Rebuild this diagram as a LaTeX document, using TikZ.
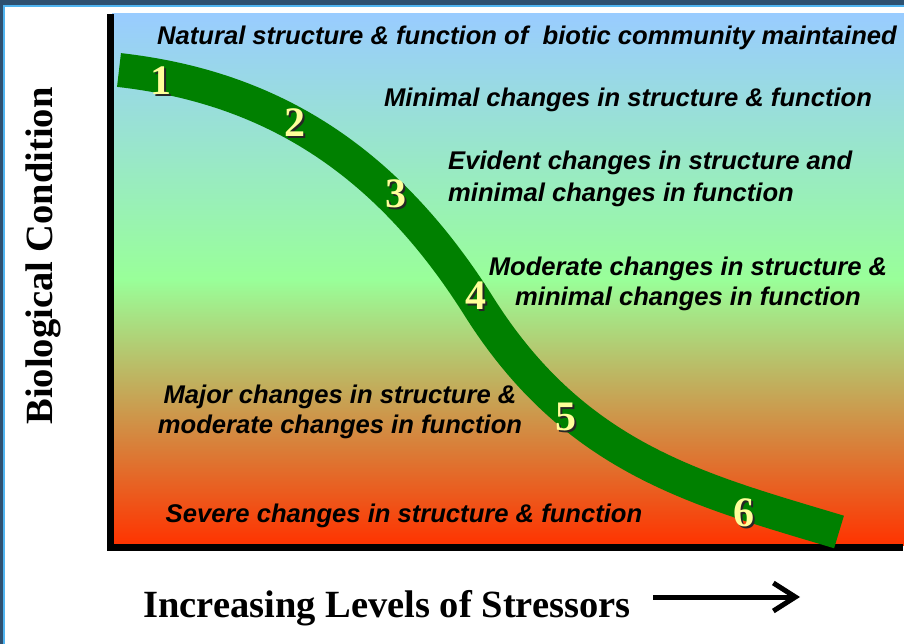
\documentclass[tikz,border=0pt]{standalone}
\usepackage{fontspec}
\setmainfont{Liberation Serif}
\newfontfamily\labfont{Liberation Sans}
\usetikzlibrary{arrows.meta}
\definecolor{frameDark}{RGB}{46,80,112}
\definecolor{frameLight}{RGB}{80,180,240}
\definecolor{skyTop}{RGB}{153,204,255}
\definecolor{midGreen}{RGB}{153,255,153}
\definecolor{hotBottom}{RGB}{255,51,0}
\definecolor{bandGreen}{RGB}{0,128,0}
\definecolor{numYellow}{RGB}{255,255,153}
\tikzset{
  lab/.style={font=\labfont\bfseries\itshape\fontsize{25.6}{30}\selectfont, inner sep=0pt, align=center},
  num/.style={font=\bfseries\fontsize{42}{42}\selectfont, text=numYellow, inner sep=0pt},
  numshadow/.style={font=\bfseries\fontsize{42}{42}\selectfont, text=black!85, inner sep=0pt},
  axislab/.style={font=\bfseries\fontsize{38.5}{40}\selectfont, inner sep=0pt},
  axisline/.style={fill=black},
  band/.style={draw=bandGreen, line width=34pt},
}
\begin{document}
\begin{tikzpicture}[x=1pt,y=-1pt]
\useasboundingbox (0,0) rectangle (904,644);
\fill[white] (0,0) rectangle (904,644);
% frame
\fill[frameLight] (0,0) rectangle (904,7.5);
\fill[frameLight] (0,0) rectangle (5,644);
\fill[frameDark] (0,0) rectangle (904,5);
\fill[frameDark] (0,0) rectangle (3,644);
% gradient panel
\shade[top color=skyTop, bottom color=hotBottom, middle color=midGreen] (112,14) rectangle (904,545);
% axes
\fill[axisline] (107,14) rectangle (114,550);
\fill[axisline] (107,544) rectangle (903,551);
% band
\draw[band] (119,70) .. controls (260,86) and (380,150) .. (478,305) .. controls (575,460) and (700,490) .. (839,532);
% numbers
\foreach \n/\x/\y in {1/161/81, 2/295/123, 3/396/194, 4/476/296, 5/566/417, 6/744/513}{
  \node[numshadow] (s\n) at (\x+2,\y+2) {\n};
  \node[num] (n\n) at (\x,\y) {\n};
}
% labels
\node[lab] (t1) at (527,38) {Natural structure \& function of \ biotic community maintained};
\node[lab] (t2) at (628,100) {Minimal changes in structure \& function};
\node[lab, align=left, anchor=west, font=\labfont\bfseries\itshape\fontsize{25.6}{32}\selectfont] (t3) at (448,179) {Evident changes in structure and\\minimal changes in function};
\node[lab] (t4) at (688,284) {Moderate changes in structure \&\\minimal changes in function};
\node[lab] (t5) at (340,412) {Major changes in structure \&\\moderate changes in function};
\node[lab] (t6) at (404,516) {Severe changes in structure \& function};
% axis labels
\node[axislab, rotate=90, anchor=base] (ylab) at (52,256) {Biological Condition};
\node[axislab, anchor=base] (xlab) at (387,617) {Increasing Levels of Stressors};
\coordinate (arrS) at (653,597);
\coordinate (arrE) at (800,597);
\draw[line width=5pt, -{Straight Barb[length=22pt,width=28pt]}] (arrS) -- (arrE);
\end{tikzpicture}
\end{document}
